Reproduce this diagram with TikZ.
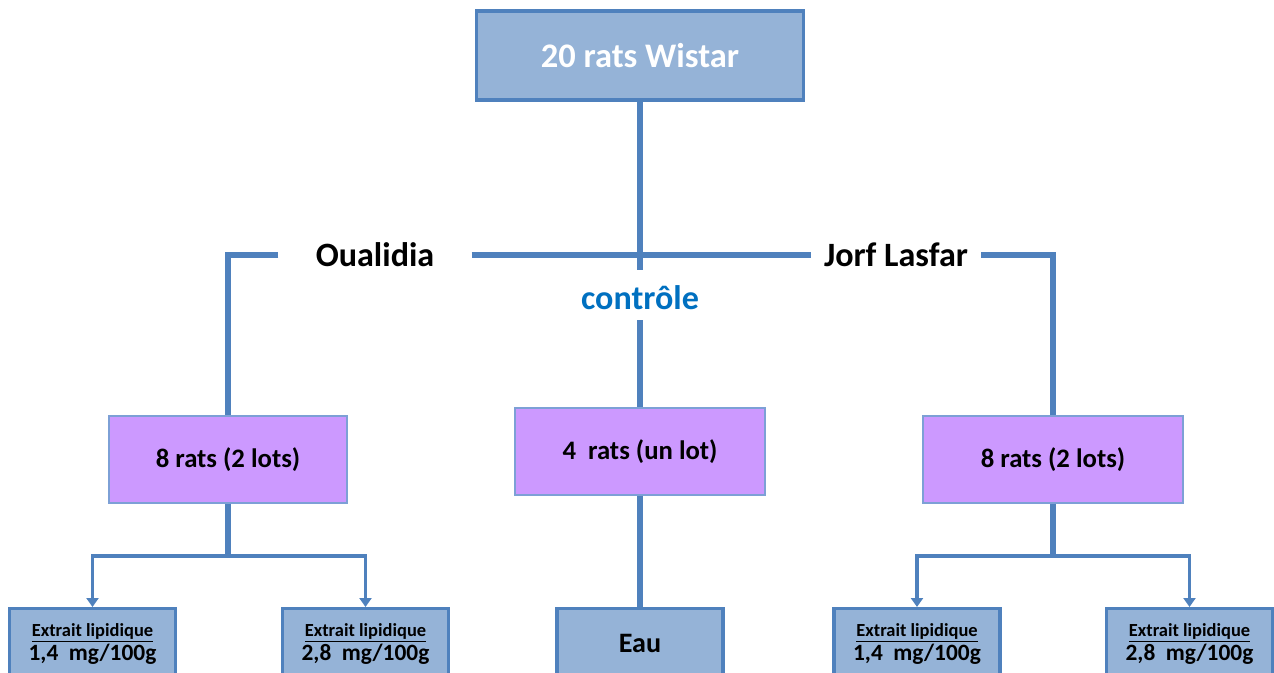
\documentclass[tikz,border=0pt]{standalone}
\usepackage{xcolor}
\usepackage{fontspec}
\setmainfont{Carlito}
\usepackage{tikz}
\usetikzlibrary{arrows.meta}
\usetikzlibrary{calc}
\usetikzlibrary{positioning}

\definecolor{lineblue}{HTML}{4F81BD}
\definecolor{boxblue}{HTML}{95B3D7}
\definecolor{lotpurple}{HTML}{CC99FF}
\definecolor{lotedge}{HTML}{7DA0D6}
\definecolor{ctrlblue}{HTML}{0070C0}

\tikzset{
  topbox/.style={draw=lineblue, fill=boxblue, line width=1.8pt, font=\bfseries},
  lotbox/.style={draw=lotedge, fill=lotpurple, line width=1.1pt, minimum height=1.74cm,
    font=\fontsize{15.2}{18}\selectfont\bfseries},
  dosebox/.style={draw=lineblue, fill=boxblue, line width=1.8pt, anchor=north,
    minimum width=3.32cm, minimum height=1.4cm, align=center,
    font=\fontsize{13.3}{13.6}\selectfont\bfseries},
  link/.style={draw=lineblue, line width=3.1pt},
  arrowlink/.style={draw=lineblue, line width=1.8pt, -{Triangle[width=0.24cm,length=0.18cm]}}
}

\begin{document}
\begin{tikzpicture}
    \clip (0,0) rectangle (25.48,-13.46);
    \node[topbox, minimum width=6.54cm, minimum height=1.78cm, text=white,
      font=\fontsize{19.6}{22}\selectfont\bfseries] (T) at (12.8,-1.11) {20 rats Wistar};
    \node[font=\fontsize{19.4}{22}\selectfont\bfseries, inner xsep=0.74cm] (O) at (7.5,-5.1) {Oualidia};
    \node[font=\fontsize{19.4}{22}\selectfont\bfseries, inner xsep=0.26cm] (J) at (17.92,-5.1) {Jorf Lasfar};
    \node[font=\fontsize{19.4}{22}\selectfont\bfseries, text=ctrlblue, inner ysep=0.2cm] (C) at (12.8,-5.96) {contrôle};
    \coordinate (X) at (12.8,-5.4);
    \node[lotbox, minimum width=4.76cm] (L) at (4.56,-9.19) {8 rats (2 lots)};
    \node[lotbox, minimum width=5.0cm] (M) at (12.8,-9.03) {4\ \ rats (un lot)};
    \node[lotbox, minimum width=5.2cm] (R) at (21.06,-9.19) {8 rats (2 lots)};
    \node[dosebox] (L1) at (1.85,-12.14) {{\fontsize{10.5}{12}\selectfont\underline{Extrait lipidique}}\\1,4\ \ mg/100g};
    \node[dosebox] (L2) at (7.31,-12.14) {{\fontsize{10.5}{12}\selectfont\underline{Extrait lipidique}}\\2,8\ \ mg/100g};
    \node[dosebox, font=\fontsize{16}{18}\selectfont\bfseries] (E) at (12.8,-12.14) {Eau};
    \node[dosebox] (R1) at (18.34,-12.14) {{\fontsize{10.5}{12}\selectfont\underline{Extrait lipidique}}\\1,4\ \ mg/100g};
    \node[dosebox] (R2) at (23.79,-12.14) {{\fontsize{10.5}{12}\selectfont\underline{Extrait lipidique}}\\2,8\ \ mg/100g};
    \coordinate (LS) at (4.56,-11.12);
    \coordinate (RS) at (21.06,-11.12);
    \path[link] (T) -- (X);
    \path[link] (O) -- (J);
    \path[link] (O.west) -| (L.north);
    \path[link] (J.east) -| (R.north);
    \path[link] (C) -- (M);
    \path[link] (M) -- (E);
    \path[link] (L) -- (LS);
    \path[link] (R) -- (RS);
    \path[arrowlink] (LS) -| (L1.north);
    \path[arrowlink] (LS) -| (L2.north);
    \path[arrowlink] (RS) -| (R1.north);
    \path[arrowlink] (RS) -| (R2.north);
  \end{tikzpicture}
\end{document}
